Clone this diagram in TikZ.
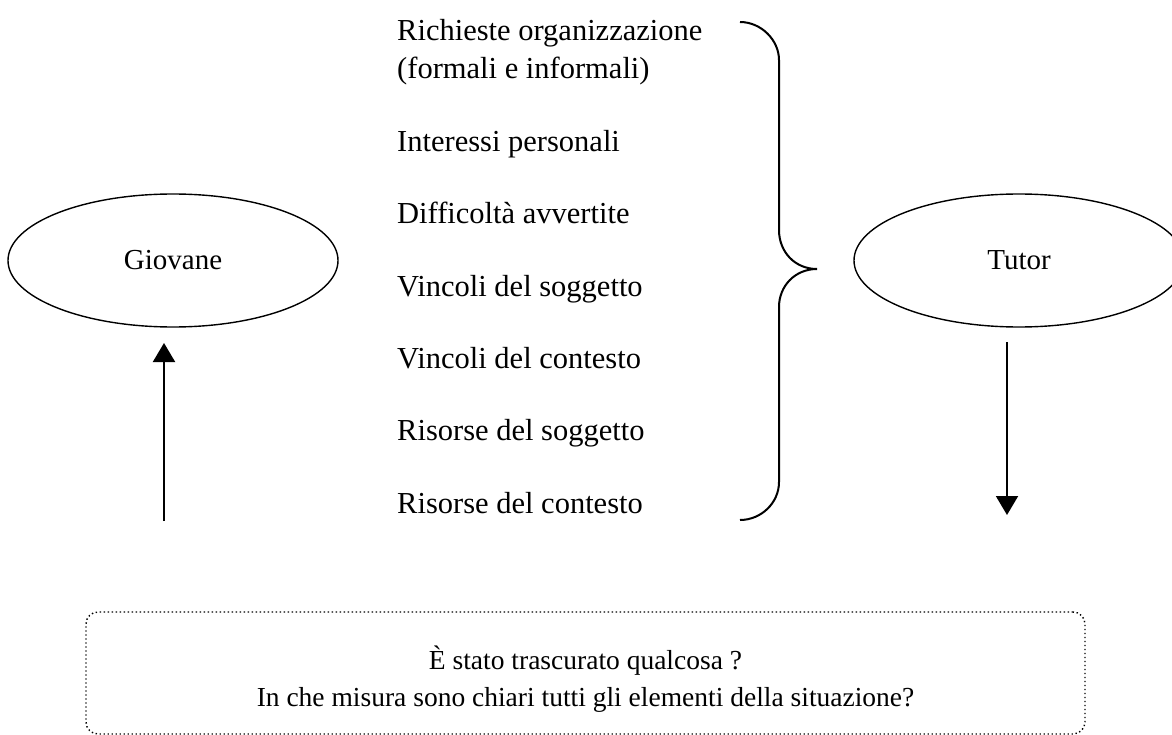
\documentclass[tikz,border=0pt]{standalone}
\usepackage{fontspec}
\setmainfont{Liberation Serif}
\usetikzlibrary{shapes.geometric,arrows.meta}
\begin{document}
\begin{tikzpicture}[x=1pt,y=-1pt,
  every node/.style={font=\fontsize{29}{37}\selectfont},
  oval/.style={draw,ellipse,line width=1.4pt,minimum width=330pt,minimum height=133pt,inner sep=0pt},
  item/.style={anchor=base west,inner sep=0pt,font=\fontsize{30.5}{38}\selectfont},
  arr/.style={line width=2pt,-{Triangle[width=22pt,length=19pt]}},
  brace/.style={line width=2pt},
  qbox/.style={draw,dash pattern=on 1.4pt off 2.6pt,line width=1.4pt,rounded corners=12pt,minimum width=999pt,minimum height=122pt,inner sep=0pt}]
\useasboundingbox (0,0) rectangle (1172,735);
\node[oval] (giovane) at (173,260.5) {Giovane};
\node[oval] (tutor) at (1019,260.5) {Tutor};
\coordinate (g1) at (164,521);
\coordinate (g2) at (164,343);
\coordinate (t1) at (1007,342);
\coordinate (t2) at (1007,515);
\draw[arr] (g1) -- (g2);
\draw[arr] (t1) -- (t2);
\node[item] (i1) at (397,41) {Richieste organizzazione};
\node[item] (i1b) at (397,79) {(formali e informali)};
\node[item] (i2) at (397,152) {Interessi personali};
\node[item] (i3) at (397,224) {Difficoltà avvertite};
\node[item] (i4) at (397,296) {Vincoli del soggetto};
\node[item] (i5) at (397,368) {Vincoli del contesto};
\node[item] (i6) at (397,440) {Risorse del soggetto};
\node[item] (i7) at (397,513) {Risorse del contesto};
\coordinate (b0) at (740,22);
\coordinate (tip) at (817,269);
\coordinate (b9) at (740,520);
\draw[brace] (b0) .. controls (761,22) and (779,40) .. (779,60) -- (779,230)
  .. controls (779,252) and (795,269) .. (tip)
  .. controls (795,269) and (779,286) .. (779,307) -- (779,482)
  .. controls (779,503) and (761,520) .. (b9);
\node[qbox] (box) at (585.5,673) {};
\node[align=center,inner sep=0pt,font=\fontsize{27.5}{37}\selectfont] (q) at (585.5,679) {È stato trascurato qualcosa ?\\In che misura sono chiari tutti gli elementi della situazione?};
\end{tikzpicture}
\end{document}
